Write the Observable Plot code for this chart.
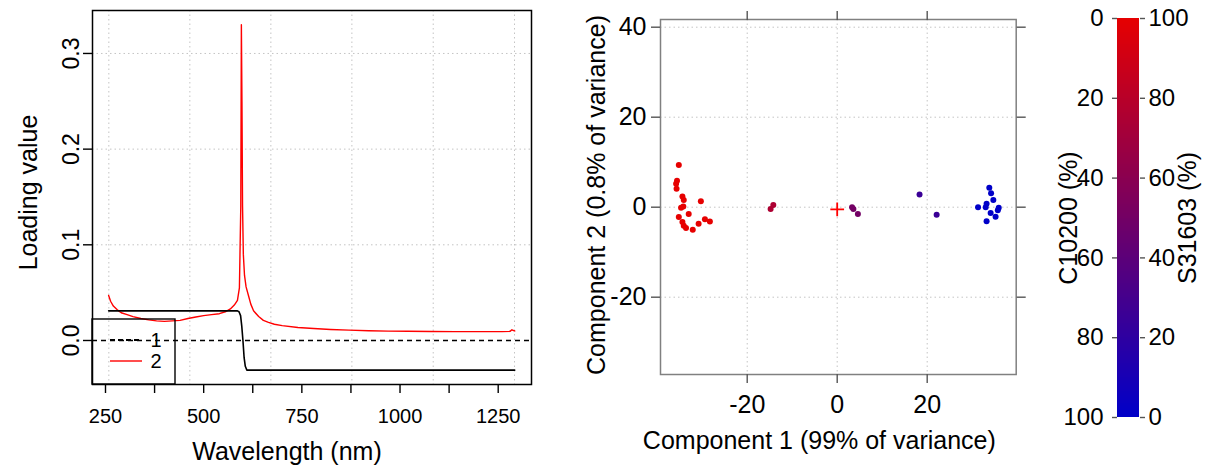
<!DOCTYPE html>
<html><head><meta charset="utf-8">
<script src="https://cdn.jsdelivr.net/npm/d3@7"></script>
<script src="https://cdn.jsdelivr.net/npm/@observablehq/plot@0.6"></script>
<style>
body{margin:0;background:#fff;}
#wrap{position:relative;width:1213px;height:468px;overflow:hidden;background:#fff;}
.panel{position:absolute;top:0;}
</style></head><body>
<div id="wrap"><div id="p1" class="panel" style="left:0"></div><div id="p2" class="panel" style="left:560px"></div><div id="p3" class="panel" style="left:1040px"></div></div>
<script>
// ---------- Data: loadings ----------
const wl1 = [258, 586, 590, 594, 597, 600, 603, 606, 610, 1292];
const load1 = [0.031, 0.031, 0.030, 0.026, 0.015, 0.0, -0.018, -0.027, -0.031, -0.031];
const wl2 = [258, 263, 270, 280, 290, 305, 320, 340, 360, 380, 400, 420, 440, 460, 480, 500, 520, 540, 555, 568, 578, 586, 591, 594.5, 596, 597.5, 599, 601, 604, 608, 614, 620, 627, 640, 652, 665, 680, 700, 740, 780, 823, 870, 920, 970, 1020, 1080, 1140, 1200, 1260, 1280, 1285, 1289, 1292];
const load2 = [0.047, 0.041, 0.036, 0.032, 0.029, 0.027, 0.025, 0.023, 0.0215, 0.0205, 0.020, 0.0205, 0.021, 0.023, 0.0245, 0.026, 0.027, 0.028, 0.030, 0.033, 0.037, 0.042, 0.055, 0.14, 0.33, 0.25, 0.14, 0.09, 0.068, 0.056, 0.047, 0.038, 0.031, 0.025, 0.021, 0.019, 0.017, 0.0155, 0.0136, 0.0125, 0.0115, 0.0108, 0.0102, 0.0098, 0.0096, 0.0094, 0.0093, 0.0093, 0.0093, 0.0095, 0.0112, 0.0104, 0.0100];
const xTicks1 = [250, 375, 500, 625, 750, 875, 1000, 1125, 1250];
const xLabels1 = [250, 500, 750, 1000, 1250];
const yTicks1 = [0, 0.1, 0.2, 0.3];
const gridWl = [258.5, 464.8, 671.1, 877.4, 1084.5, 1291.5];
const legendNames = ["1", "2"];

// ---------- Data: PCA scores ----------
const pc1 = [-35.2, -35.6, -35.8, -35.7, -34.4, -34.1, -34.2, -34.7, -30.3, -33.0, -35.2, -34.4, -34.1, -33.6, -32.1, -30.8, -29.4, -28.3,
             -14.8, -14.2,
             3.3, 3.6, 4.6,
             18.3, 22.1,
             33.8, 34.2, 34.7, 33.2, 31.3, 33.0, 35.9, 35.7, 34.1, 35.2, 33.2];
const pc2 = [9.4, 5.9, 5.2, 4.1, 2.4, 1.6, 0.15, -0.1, 1.3, -1.5, -2.2, -3.3, -4.1, -4.6, -5.0, -3.7, -2.7, -3.2,
             -0.4, 0.5,
             0.0, -0.4, -1.5,
             2.8, -1.7,
             4.3, 3.1, 1.6, 0.75, 0.0, 0.0, -0.1, -0.7, -1.3, -2.1, -3.1];
const s316 = [100,100,100,100,100,100,100,100,100,100,100,100,100,100,100,100,100,100,
              75, 75,
              50, 50, 50,
              25, 25,
              0,0,0,0,0,0,0,0,0,0,0];
const centerPt = [{x: 0, y: -0.5}];
const xTicks2 = [-20, 0, 20];
const yTicks2 = [-20, 0, 20, 40];
const cbTicks = [0, 20, 40, 60, 80, 100];

const FONT = '"Liberation Sans", Arial, Helvetica, sans-serif';
const RED = "#E60000", BLUE = "#0000C8";
const gridStyle = {stroke: "#c4c4c4", strokeOpacity: 1, strokeDasharray: "1.5,3", strokeWidth: 1};

// ---------- Panel 1: loadings ----------
const s1 = wl1.map((w, i) => ({w, v: load1[i]}));
const s2 = wl2.map((w, i) => ({w, v: load2[i]}));
const p1 = Plot.plot({
  width: 560, height: 468, marginLeft: 92, marginRight: 29, marginTop: 10, marginBottom: 84,
  style: {fontFamily: FONT, background: "white", overflow: "visible", color: "black"},
  x: {domain: [216.9, 1334.8]},
  y: {domain: [-0.046, 0.3449]},
  marks: [
    Plot.gridX(gridWl, gridStyle),
    Plot.gridY(yTicks1.slice(1), gridStyle),
    Plot.ruleY([0], {stroke: "black", strokeDasharray: "5,4", strokeWidth: 1.3}),
    Plot.line(s2, {x: "w", y: "v", stroke: "#ff0000", strokeWidth: 1.4}),
    Plot.line(s1, {x: "w", y: "v", stroke: "black", strokeWidth: 1.6}),
    Plot.frame({stroke: "black", strokeWidth: 1.5}),
    Plot.axisX({ticks: xTicks1, tickFormat: d => xLabels1.includes(d) ? String(d) : "", tickSize: 9, tickPadding: 15, fontSize: 20, label: null, stroke: "black", strokeWidth: 1.4}),
    Plot.axisY({ticks: yTicks1, tickFormat: () => "", tickSize: 9, label: null, stroke: "black", strokeWidth: 1.4}),
    Plot.text(yTicks1, {y: d => d, text: d => d.toFixed(1), frameAnchor: "left", dx: -21, rotate: -90, fontSize: 23, textAnchor: "middle", lineAnchor: "middle"}),
    Plot.text(["Wavelength (nm)"], {text: d => d, frameAnchor: "bottom", dy: 67, dx: -25, fontSize: 25, textAnchor: "middle", lineAnchor: "middle"}),
    Plot.text(["Loading value"], {text: d => d, frameAnchor: "left", dx: -64, dy: -5, rotate: -90, fontSize: 25, textAnchor: "middle", lineAnchor: "middle"})
  ]
});
document.getElementById("p1").appendChild(p1);
// legend (bottom-left, inside frame)
{
  const svg = d3.select(p1);
  const L = 92, B = 468 - 84;
  const g = svg.append("g").attr("font-family", FONT).attr("font-size", 20);
  g.append("rect").attr("x", L).attr("y", B - 65).attr("width", 83).attr("height", 65)
    .attr("fill", "none").attr("stroke", "black").attr("stroke-width", 1.4);
  const styles = [{stroke: "black", dash: "5,3", w: 2.2}, {stroke: "#ff0000", dash: null, w: 1.4}];
  legendNames.forEach((n, i) => {
    const yy = B - 44 + i * 21;
    const ln = g.append("line").attr("x1", L + 18).attr("x2", L + 50).attr("y1", yy).attr("y2", yy)
      .attr("stroke", styles[i].stroke).attr("stroke-width", styles[i].w);
    if (styles[i].dash) ln.attr("stroke-dasharray", styles[i].dash);
    g.append("text").attr("x", L + 64).attr("y", yy).attr("dy", "0.35em").text(n);
  });
}

// ---------- Panel 2: scores ----------
const pts = pc1.map((x, i) => ({x, y: pc2[i], s: s316[i]}));
const colorOpt = {type: "linear", domain: [0, 100], range: [BLUE, RED], interpolate: "rgb"};
const axGray = "#555";
const p2 = Plot.plot({
  width: 480, height: 468, marginLeft: 100, marginRight: 24.3, marginTop: 19, marginBottom: 94,
  style: {fontFamily: FONT, background: "white", overflow: "visible", color: "black"},
  x: {domain: [-39.27, 39.78]},
  y: {domain: [-37.18, 41.71]},
  color: colorOpt,
  marks: [
    Plot.gridX(xTicks2, gridStyle),
    Plot.gridY(yTicks2, gridStyle),
    Plot.dot(pts, {x: "x", y: "y", fill: "s", r: 3}),
    Plot.dot(centerPt, {x: "x", y: "y", symbol: "plus", stroke: "#ff0000", r: 4.5, strokeWidth: 1.8}),
    Plot.frame({stroke: "#808080", strokeWidth: 1.5}),
    Plot.axisX({anchor: "bottom", ticks: xTicks2, tickFormat: d => String(d), tickSize: 9, tickPadding: 12, fontSize: 25, label: null, stroke: axGray, strokeWidth: 1.4, fill: "black"}),
    Plot.axisX({anchor: "top", ticks: xTicks2, tickFormat: () => "", tickSize: 9, label: null, stroke: axGray, strokeWidth: 1.4}),
    Plot.axisY({anchor: "left", ticks: yTicks2, tickFormat: d => String(d), tickSize: 9, tickPadding: 5, fontSize: 25, label: null, stroke: axGray, strokeWidth: 1.4, fill: "black"}),
    Plot.axisY({anchor: "right", ticks: yTicks2, tickFormat: () => "", tickSize: 9, label: null, stroke: axGray, strokeWidth: 1.4}),
    Plot.text(["Component 1 (99% of variance)"], {text: d => d, frameAnchor: "bottom", dy: 66, dx: -19, fontSize: 25, textAnchor: "middle", lineAnchor: "middle"}),
    Plot.text(["Component 2 (0.8% of variance)"], {text: d => d, frameAnchor: "left", dx: -64, dy: -2, rotate: -90, fontSize: 25, textAnchor: "middle", lineAnchor: "middle"})
  ]
});
document.getElementById("p2").appendChild(p2);

// ---------- Panel 3: colour bar ----------
const ramp = d3.range(0, 100, 0.5);
const p3 = Plot.plot({
  width: 173, height: 468, marginLeft: 77, marginRight: 74, marginTop: 18, marginBottom: 51,
  style: {fontFamily: FONT, background: "white", overflow: "visible", color: "black"},
  y: {domain: [0, 100]},
  color: colorOpt,
  marks: [
    Plot.rect(ramp, {y1: d => d, y2: d => d + 0.6, fill: d => d + 0.25, shapeRendering: "crispEdges"}),
    Plot.axisY({anchor: "left", ticks: cbTicks, tickFormat: d => String(100 - d), tickSize: 5, tickPadding: 9, fontSize: 24, label: null, stroke: axGray, strokeWidth: 1.4, fill: "black"}),
    Plot.axisY({anchor: "right", ticks: cbTicks, tickFormat: d => String(d), tickSize: 5, tickPadding: 4, fontSize: 24, label: null, stroke: axGray, strokeWidth: 1.4, fill: "black"}),
    Plot.text(["C10200 (%)"], {text: d => d, frameAnchor: "left", dx: -49, rotate: -90, fontSize: 25, textAnchor: "middle", lineAnchor: "middle"}),
    Plot.text(["S31603 (%)"], {text: d => d, frameAnchor: "right", dx: 48, rotate: -90, fontSize: 25, textAnchor: "middle", lineAnchor: "middle"})
  ]
});
document.getElementById("p3").appendChild(p3);
</script></body></html>
